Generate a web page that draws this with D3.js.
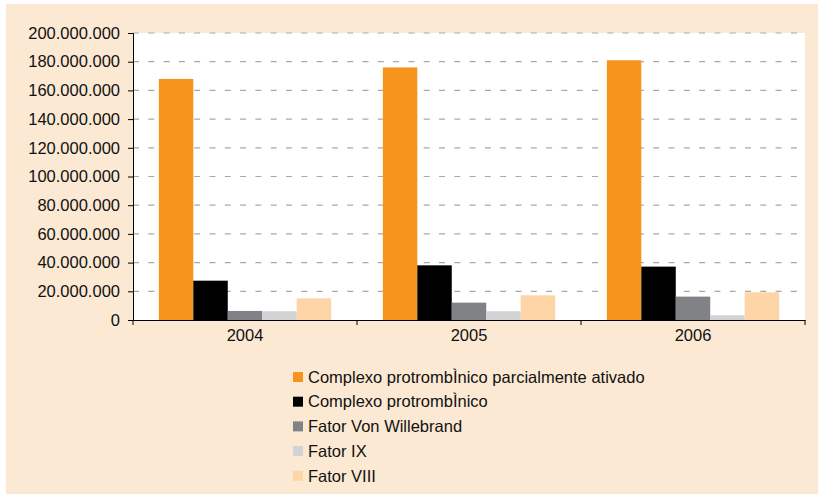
<!DOCTYPE html>
<html>
<head>
<meta charset="utf-8">
<script src="https://cdn.jsdelivr.net/npm/d3@7"></script>
<style>
  body { margin: 0; background: #fff; }
  svg { display: block; font-family: "Liberation Sans", Arial, sans-serif; }
</style>
</head>
<body>
<div id="chart"></div>
<script>
// data
var years = ["2004", "2005", "2006"];
var seriesNames = [
  "Complexo protrombÌnico parcialmente ativado",
  "Complexo protrombÌnico",
  "Fator Von Willebrand",
  "Fator IX",
  "Fator VIII"
];
var complexoAtivado = [168000000, 176000000, 181000000];
var complexo = [27400000, 38100000, 37200000];
var vonWillebrand = [6300000, 12100000, 16300000];
var fatorIX = [6100000, 6100000, 3300000];
var fatorVIII = [15100000, 17200000, 19300000];
var yTicks = [0, 20000000, 40000000, 60000000, 80000000, 100000000, 120000000, 140000000, 160000000, 180000000, 200000000];

var allSeries = [complexoAtivado, complexo, vonWillebrand, fatorIX, fatorVIII];
var colors = ["#f7941d", "#000000", "#808285", "#d1d3d4", "#fdd5a6"];

const layout = {
  width: 818,
  height: 495,
  plot: { left: 133, top: 33, right: 805, bottom: 320 }
};

var fontSize = 16.5;

var svg = d3.select("#chart").append("svg")
  .attr("width", layout.width)
  .attr("height", layout.height);

// beige frame
svg.append("rect")
  .attr("x", 6).attr("y", 4)
  .attr("width", layout.width - 6).attr("height", 490)
  .attr("fill", "#fce9d3");

svg.append("rect")
  .attr("x", layout.plot.left).attr("y", layout.plot.top)
  .attr("width", layout.plot.right - layout.plot.left)
  .attr("height", layout.plot.bottom - layout.plot.top)
  .attr("fill", "#fff");

var x0 = d3.scaleBand().domain(years)
  .range([layout.plot.left, layout.plot.right])
  .paddingInner(0).paddingOuter(0);

// Excel gap width 150%: 5 bars + 1.5 bar gap per category
var barW = x0.bandwidth() / 6.5;
var x1 = d3.scaleBand().domain(d3.range(allSeries.length))
  .range([barW * 0.75, x0.bandwidth() - barW * 0.75]);

var y = d3.scaleLinear().domain([0, 200000000])
  .range([layout.plot.bottom, layout.plot.top]);

var fmt = function(v) {
  return d3.format(",")(v).replace(/,/g, ".");
};

// gridlines
svg.append("g")
  .selectAll("line")
  .data(yTicks.filter(function(d) { return d > 0; }))
  .join("line")
  .attr("x1", layout.plot.left).attr("x2", layout.plot.right)
  .attr("y1", function(d) { return y(d); })
  .attr("y2", function(d) { return y(d); })
  .attr("stroke", "#a7a9ac")
  .attr("stroke-width", 1.2)
  .attr("stroke-dasharray", "6,9.3");

// bars
allSeries.forEach(function(values, s) {
  svg.append("g")
    .selectAll("rect")
    .data(values)
    .join("rect")
    .attr("x", function(d, i) { return x0(years[i]) + x1(s); })
    .attr("y", function(d) { return y(d); })
    .attr("width", x1.bandwidth())
    .attr("height", function(d) { return y(0) - y(d); })
    .attr("fill", colors[s]);
});

// axes
var yAxis = d3.axisLeft(y).tickValues(yTicks).tickFormat(fmt).tickSize(5).tickPadding(8);
var gy = svg.append("g")
  .attr("transform", `translate(${layout.plot.left},0)`)
  .call(yAxis);
gy.selectAll("text").attr("font-size", fontSize).attr("fill", "#111").attr("font-family", null);
gy.selectAll("line, path").attr("stroke", "#000");

var xAxis = d3.axisBottom(x0).tickSize(0).tickPadding(9);
var gx = svg.append("g")
  .attr("transform", `translate(0,${layout.plot.bottom})`)
  .call(xAxis);
gx.selectAll("text").attr("font-size", fontSize).attr("fill", "#111").attr("font-family", null);
gx.select(".domain").attr("stroke", "#000");
// category separators
gx.selectAll(".sep")
  .data(years.concat(["end"]))
  .join("line")
  .attr("x1", function(d, i) { return layout.plot.left + i * x0.bandwidth(); })
  .attr("x2", function(d, i) { return layout.plot.left + i * x0.bandwidth(); })
  .attr("y1", 0).attr("y2", 5)
  .attr("stroke", "#000");

// legend
var legend = svg.append("g").attr("transform", "translate(293,377)");
var rows = legend.selectAll("g")
  .data(seriesNames)
  .join("g")
  .attr("transform", function(d, i) { return `translate(0,${i * 24.7})`; });
rows.append("rect")
  .attr("x", 0).attr("y", -5)
  .attr("width", 10).attr("height", 10)
  .attr("fill", function(d, i) { return colors[i]; });
rows.append("text")
  .attr("x", 15).attr("y", 0)
  .attr("dy", "0.35em")
  .attr("font-size", fontSize)
  .attr("fill", "#111")
  .text(function(d) { return d; });
</script>
</body>
</html>
